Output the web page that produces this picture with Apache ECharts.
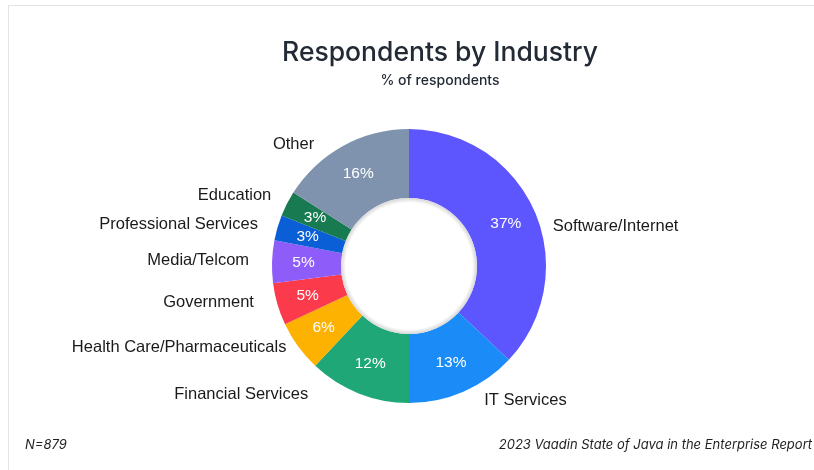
<!DOCTYPE html>
<html>
<head>
<meta charset="utf-8">
<script src="https://cdn.jsdelivr.net/npm/echarts@6/dist/echarts.min.js"></script>
<style>
  html, body { margin: 0; padding: 0; background: #fff; }
  #chart { width: 814px; height: 470px; }
</style>
</head>
<body>
<div id="chart"></div>
<script>
// Industry breakdown, % of respondents (clockwise from 12 o'clock)
const industries = [
  'Software/Internet', 'IT Services', 'Financial Services',
  'Health Care/Pharmaceuticals', 'Government', 'Media/Telcom',
  'Professional Services', 'Education', 'Other'
];
const shares = [37, 13, 12, 6, 5, 5, 3, 3, 16];
const sliceColors = [
  '#5d55fd', '#1b8bf8', '#1fa777', '#fdb100', '#fb3a4c',
  '#8e5cf8', '#0a5fd6', '#187a51', '#7f93ae'
];

const chart = echarts.init(document.getElementById('chart'), null, { renderer: 'canvas' });

const center = [409, 266];
const ring = [68, 137];

// small hand nudges so the outside name labels sit clear of each other
const nameLabelNudge = {
  'Software/Internet': [-6, 20],
  'IT Services': [3, -2],
  'Financial Services': [-33, -10],
  'Health Care/Pharmaceuticals': [11, -6],
  'Government': [1, -5],
  'Media/Telcom': [2, -1],
  'Professional Services': [5, 0],
  'Education': [8, -3],
  'Other': [-10, 9]
};

const sliceData = industries.map((name, i) => ({
  name,
  value: shares[i],
  itemStyle: { color: sliceColors[i] }
}));

const footStyle = { fontFamily: 'Inter', fontSize: 13, fontStyle: 'italic', fontWeight: 400, color: '#1f1f1f' };

chart.setOption({
  backgroundColor: '#ffffff',
  animation: false,
  title: [
    {
      text: 'Respondents by Industry',
      left: 435, top: 35, textAlign: 'center',
      textStyle: { fontFamily: 'Inter', fontSize: 26.5, fontWeight: 500, color: '#222a35' }
    },
    {
      text: '% of respondents',
      left: 435, top: 69, textAlign: 'center',
      textStyle: { fontFamily: 'Inter', fontSize: 14, fontWeight: 500, color: '#222a35' }
    },
    { text: 'N=879', left: 25, top: 439, padding: 0, textStyle: footStyle },
    { text: '2023 Vaadin State of Java in the Enterprise Report', right: 2, top: 439, padding: 0, textStyle: footStyle }
  ],
  graphic: [
    { type: 'line', shape: { x1: 8, y1: 5.5, x2: 814, y2: 5.5 }, style: { stroke: '#e3e3e3', lineWidth: 1 }, silent: true },
    { type: 'line', shape: { x1: 8.5, y1: 5, x2: 8.5, y2: 470 }, style: { stroke: '#e3e3e3', lineWidth: 1 }, silent: true }
  ],
  series: [
    {
      // slices with category names outside
      type: 'pie',
      center, radius: ring,
      startAngle: 90, clockwise: true,
      avoidLabelOverlap: false,
      silent: true,
      data: sliceData,
      label: {
        show: true, position: 'outside',
        formatter: '{b}',
        fontFamily: 'Liberation Sans', fontSize: 16.5, color: '#1a1a1a',
        distanceToLabelLine: 5
      },
      labelLine: { show: false, length: 12, length2: 8 },
      labelLayout: function (p) {
        const n = nameLabelNudge[p.text] || [0, 0];
        return { dx: n[0], dy: n[1] };
      }
    },
    {
      // percentage labels in the middle of the ring
      type: 'pie',
      center, radius: ring,
      startAngle: 90, clockwise: true,
      silent: true,
      data: industries.map((name, i) => ({ name, value: shares[i] })),
      itemStyle: { color: 'rgba(0,0,0,0)' },
      label: {
        show: true, position: 'inside',
        formatter: p => p.value + '%',
        fontFamily: 'Liberation Sans', fontSize: 15.5, fontWeight: 'normal', color: '#ffffff'
      },
      labelLine: { show: false }
    },
    {
      // soft inner edge of the hole
      type: 'pie',
      center, radius: [0, ring[0]],
      silent: true,
      label: { show: false }, labelLine: { show: false },
      data: [{
        value: 1,
        itemStyle: {
          color: {
            type: 'radial', x: 0.5, y: 0.5, r: 0.5,
            colorStops: [
              { offset: 0, color: '#ffffff' },
              { offset: 0.93, color: '#ffffff' },
              { offset: 1, color: '#d6d6d6' }
            ]
          }
        }
      }]
    }
  ]
});
</script>
</body>
</html>
